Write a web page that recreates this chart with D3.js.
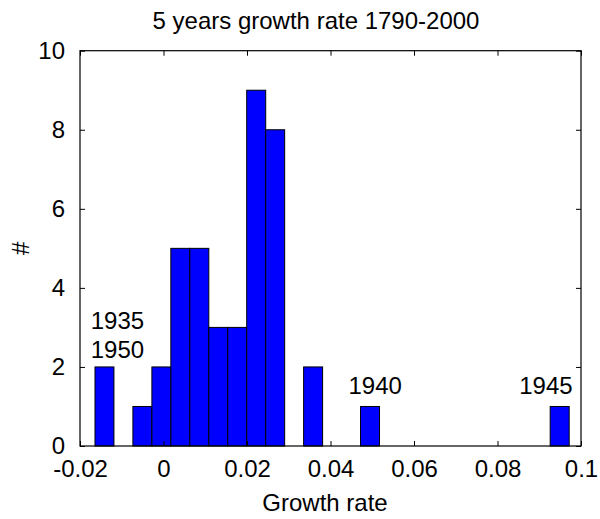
<!DOCTYPE html>
<html>
<head>
<meta charset="utf-8">
<script src="https://cdnjs.cloudflare.com/ajax/libs/d3/7.8.5/d3.min.js"></script>
<style>
  body { margin: 0; background: #fff; }
  text { font-family: "Liberation Sans", Arial, sans-serif; fill: #000; }
</style>
</head>
<body>
<div id="chart"></div>
<script>
// histogram bins (edges) and counts
var binEdges = [-0.01641, -0.01187, -0.00733, -0.00278, 0.00176, 0.00631, 0.01085,
  0.01539, 0.01993, 0.02448, 0.02902, 0.03356, 0.03811, 0.04265, 0.04719, 0.05174,
  0.05628, 0.06082, 0.06536, 0.06991, 0.07445, 0.07899, 0.08354, 0.08808, 0.09262, 0.09717];
var counts = [2, 0, 1, 2, 5, 5, 3, 3, 9, 8, 0, 2, 0, 0, 1, 0, 0, 0, 0, 0, 0, 0, 0, 0, 1];

var xTicks = [-0.02, 0, 0.02, 0.04, 0.06, 0.08, 0.1];
var xTickLabels = ['-0.02', '0', '0.02', '0.04', '0.06', '0.08', '0.1'];
var yTicks = [0, 2, 4, 6, 8, 10];

// year labels placed like MATLAB text(x, y, ...)
var notes = [
  { label: '1935', x: -0.01744, y: 2.96 },
  { label: '1950', x: -0.01744, y: 2.22 },
  { label: '1940', x: 0.0443, y: 1.315 },
  { label: '1945', x: 0.0852, y: 1.315 }
];

var width = 600, height = 519;
var margin = { top: 50.7, right: 19, bottom: 73, left: 80 };
var w = width - margin.left - margin.right,
    h = height - margin.top - margin.bottom;

var svg = d3.select('#chart').append('svg')
    .attr('width', width)
    .attr('height', height);

var g = svg.append('g')
    .attr('transform', 'translate(' + margin.left + ',' + margin.top + ')');

var x = d3.scaleLinear().domain([-0.02, 0.1]).range([0, w]);
var y = d3.scaleLinear().domain([0, 10]).range([h, 0]);

// bars
var bins = counts.map(function(c, i) {
    return { x0: binEdges[i], x1: binEdges[i + 1], n: c };
}).filter(function(d) { return d.n > 0; });

g.selectAll('rect.bar')
    .data(bins)
  .enter().append('rect')
    .attr('class', 'bar')
    .attr('x', function(d) { return x(d.x0); })
    .attr('width', function(d) { return x(d.x1) - x(d.x0); })
    .attr('y', function(d) { return y(d.n); })
    .attr('height', function(d) { return y(0) - y(d.n); })
    .style('fill', '#0000ff')
    .style('stroke', '#000')
    .style('stroke-width', 1);

// axes, MATLAB style: ticks inside, on all four sides
var tickLen = 5;
function styleAxis(sel) {
    sel.select('.domain').remove();
    sel.selectAll('line').style('stroke', '#000').style('stroke-width', 1);
    sel.selectAll('text').style('font-size', '24px');
}

g.append('g')
    .attr('transform', 'translate(0,' + h + ')')
    .call(d3.axisBottom(x).tickValues(xTicks).tickSizeInner(-tickLen).tickSizeOuter(0)
        .tickPadding(14).tickFormat(function(d, i) { return xTickLabels[i]; }))
    .call(styleAxis);

g.append('g')
    .call(d3.axisTop(x).tickValues(xTicks).tickSizeInner(-tickLen).tickSizeOuter(0).tickFormat(''))
    .call(styleAxis);

g.append('g')
    .call(d3.axisLeft(y).tickValues(yTicks).tickSizeInner(-tickLen).tickSizeOuter(0).tickPadding(15))
    .call(styleAxis);

g.append('g')
    .attr('transform', 'translate(' + w + ',0)')
    .call(d3.axisRight(y).tickValues(yTicks).tickSizeInner(-tickLen).tickSizeOuter(0).tickFormat(''))
    .call(styleAxis);

// box
g.append('rect')
    .attr('width', w)
    .attr('height', h)
    .style('fill', 'none')
    .style('stroke', '#000')
    .style('stroke-width', 1.2);

// annotations
g.selectAll('text.note')
    .data(notes)
  .enter().append('text')
    .attr('class', 'note')
    .attr('x', function(d) { return x(d.x); })
    .attr('y', function(d) { return y(d.y); })
    .style('font-size', '24px')
    .text(function(d) { return d.label; });

// titles
svg.append('text')
    .attr('x', 316)
    .attr('y', 29)
    .attr('text-anchor', 'middle')
    .style('font-size', '24px')
    .text('5 years growth rate 1790-2000');

svg.append('text')
    .attr('x', 325)
    .attr('y', 511)
    .attr('text-anchor', 'middle')
    .style('font-size', '24px')
    .text('Growth rate');

svg.append('text')
    .attr('transform', 'translate(29,' + (margin.top + h / 2) + ') rotate(-90)')
    .attr('text-anchor', 'middle')
    .style('font-size', '24px')
    .text('#');
</script>
</body>
</html>
